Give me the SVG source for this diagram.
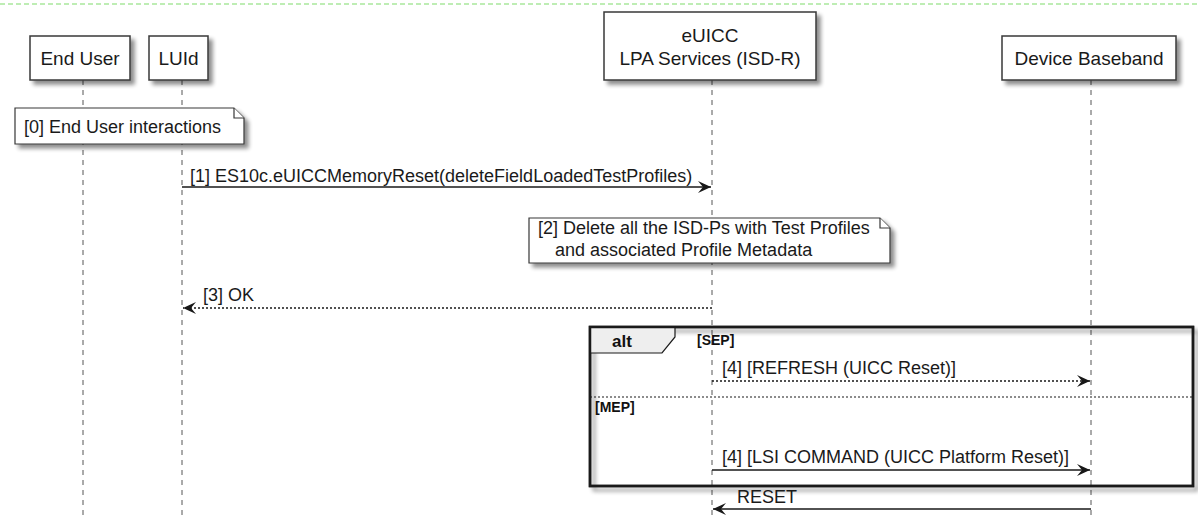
<svg xmlns="http://www.w3.org/2000/svg" width="1198" height="520" viewBox="0 0 1198 520">
  <style>
    .box { fill: #ffffff; stroke: #383838; stroke-width: 1.5; }
    .life { stroke: #555555; stroke-width: 1; stroke-dasharray: 5 5; fill: none; }
    .lbl { font-family: "Liberation Sans", Arial, sans-serif; font-size: 19px; fill: #1a1a1a; }
    .msg { font-family: "Liberation Sans", Arial, sans-serif; font-size: 18px; fill: #1a1a1a; }
    .bold { font-family: "Liberation Sans", Arial, sans-serif; font-weight: bold; fill: #111111; }
    .solid { stroke: #181818; stroke-width: 1.3; fill: none; }
    .dash { stroke: #181818; stroke-width: 1.3; stroke-dasharray: 2 2; fill: none; }
    .note { fill: #ffffff; stroke: #383838; stroke-width: 1.2; }
    .frame { fill: none; stroke: #1a1a1a; stroke-width: 2.5; }
  </style>
  <defs>
    <filter id="shadow" x="-10%" y="-10%" width="130%" height="140%">
      <feGaussianBlur in="SourceAlpha" stdDeviation="2"/>
      <feOffset dx="4" dy="4" result="off"/>
      <feComponentTransfer><feFuncA type="linear" slope="0.45"/></feComponentTransfer>
      <feMerge><feMergeNode/><feMergeNode in="SourceGraphic"/></feMerge>
    </filter>
    <marker id="head" viewBox="0 0 14 12" refX="13" refY="6" markerWidth="14" markerHeight="12" markerUnits="userSpaceOnUse" orient="auto-start-reverse">
      <path d="M0,0 L13,6 L0,12 L5,6 Z" fill="#181818"/>
    </marker>
  </defs>

  <rect x="0" y="0" width="1198" height="520" fill="#ffffff"/>
  <!-- page border -->
  <line x1="0" y1="4" x2="1198" y2="4" stroke="#7fdc6a" stroke-width="1.2" stroke-dasharray="5 3"/>

  <!-- lifelines -->
  <g id="lifelines">
    <line class="life" x1="83" y1="80" x2="83" y2="520"/>
    <line class="life" x1="182" y1="80" x2="182" y2="520"/>
    <line class="life" x1="712" y1="80" x2="712" y2="520"/>
    <line class="life" x1="1091" y1="80" x2="1091" y2="520"/>
  </g>

  <!-- participants -->
  <g id="end-user">
    <rect class="box" x="30" y="36" width="100" height="44" filter="url(#shadow)"/>
    <text class="lbl" x="80" y="65" text-anchor="middle">End User</text>
  </g>
  <g id="luid">
    <rect class="box" x="149" y="36" width="59" height="44" filter="url(#shadow)"/>
    <text class="lbl" x="178.5" y="65" text-anchor="middle">LUId</text>
  </g>
  <g id="euicc">
    <rect class="box" x="604" y="12" width="212" height="68" filter="url(#shadow)"/>
    <text class="lbl" x="710" y="42" text-anchor="middle">eUICC</text>
    <text class="lbl" x="710" y="65" text-anchor="middle">LPA Services (ISD-R)</text>
  </g>
  <g id="device-baseband">
    <rect class="box" x="1002" y="36" width="174" height="44" filter="url(#shadow)"/>
    <text class="lbl" x="1089" y="65" text-anchor="middle">Device Baseband</text>
  </g>

  <!-- notes -->
  <g id="note-0">
    <path class="note" d="M15,108 H234 L244,118 V144 H15 Z" filter="url(#shadow)"/>
    <path class="note" d="M234,108 V118 H244" fill="none"/>
    <text class="msg" x="24" y="133">[0] End User interactions</text>
  </g>
  <g id="note-2">
    <path class="note" d="M529,218 H880 L890,228 V263 H529 Z" filter="url(#shadow)"/>
    <path class="note" d="M880,218 V228 H890" fill="none"/>
    <text class="msg" x="538" y="234">[2] Delete all the ISD-Ps with Test Profiles</text>
    <text class="msg" x="555" y="256">and associated Profile Metadata</text>
  </g>

  <!-- alt fragment -->
  <g id="alt-fragment">
    <rect class="frame" x="590" y="327" width="603" height="159" filter="url(#shadow)"/>
    <path d="M590,327 H675 V337 L662,353 H590 Z" fill="#eeeeee" stroke="#1a1a1a" stroke-width="1.2"/>
    <rect x="590" y="327" width="603" height="159" fill="none" stroke="#1a1a1a" stroke-width="2.5"/>
    <text class="bold" x="612" y="347" font-size="17px">alt</text>
    <text class="bold" x="697" y="345" font-size="14px">[SEP]</text>
    <line x1="590" y1="397" x2="1193" y2="397" stroke="#1a1a1a" stroke-width="1.2" stroke-dasharray="2 2"/>
    <text class="bold" x="595" y="412" font-size="14px">[MEP]</text>
  </g>

  <!-- messages -->
  <g id="connectors">
    <line class="solid" x1="182" y1="187" x2="711" y2="187" marker-end="url(#head)"/>
    <text class="msg" x="190" y="182">[1] ES10c.eUICCMemoryReset(deleteFieldLoadedTestProfiles)</text>

    <line class="dash" x1="712" y1="308" x2="183" y2="308" marker-end="url(#head)"/>
    <text class="msg" x="203" y="301" fill="#444444">[3] OK</text>

    <line class="dash" x1="712" y1="381" x2="1090" y2="381" marker-end="url(#head)"/>
    <text class="msg" x="722" y="374">[4] [REFRESH (UICC Reset)]</text>

    <line class="solid" x1="712" y1="470" x2="1090" y2="470" marker-end="url(#head)"/>
    <text class="msg" x="722" y="463">[4] [LSI COMMAND (UICC Platform Reset)]</text>

    <line class="solid" x1="1091" y1="509" x2="713" y2="509" marker-end="url(#head)"/>
    <text class="msg" x="737" y="503">RESET</text>
  </g>
</svg>
